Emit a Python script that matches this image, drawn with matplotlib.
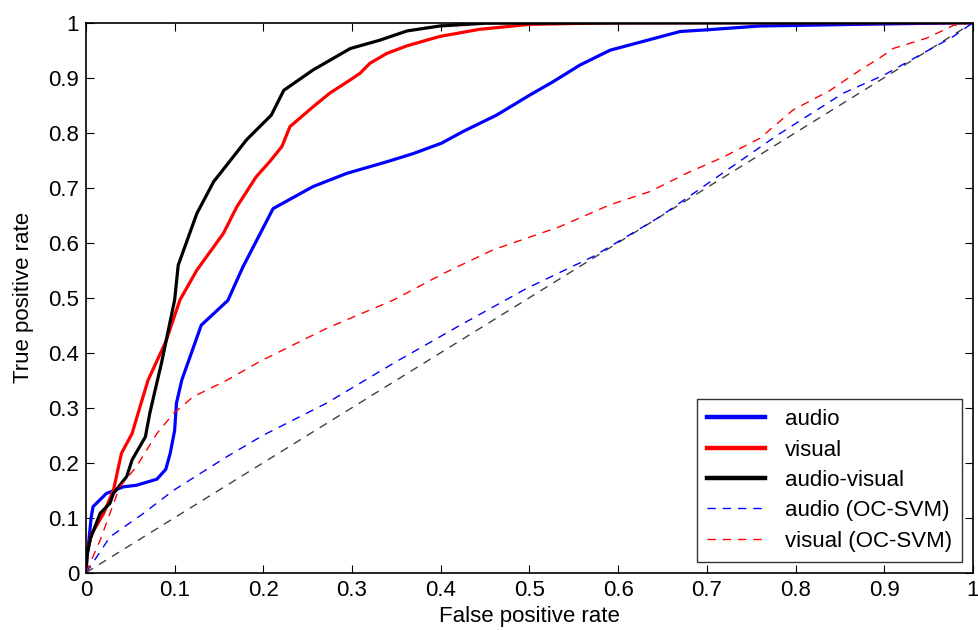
import matplotlib
matplotlib.use('Agg')
import matplotlib.pyplot as plt

plt.rcParams['font.family'] = ['Liberation Sans', 'DejaVu Sans']

#%% data

audio_fpr = [0, 0.001, 0.006, 0.008, 0.023, 0.042, 0.057, 0.080, 0.090, 0.095, 0.100,
             0.102, 0.108, 0.130, 0.160, 0.177, 0.211, 0.256, 0.294, 0.339, 0.369,
             0.401, 0.425, 0.463, 0.500, 0.527, 0.557, 0.591, 0.670, 0.700, 0.760,
             0.800, 0.870, 1.0]
audio_tpr = [0, 0.023, 0.102, 0.120, 0.144, 0.156, 0.159, 0.170, 0.188, 0.217, 0.259,
             0.308, 0.350, 0.450, 0.495, 0.556, 0.662, 0.702, 0.726, 0.747, 0.762,
             0.781, 0.802, 0.832, 0.868, 0.893, 0.923, 0.950, 0.984, 0.987, 0.994,
             0.995, 0.997, 1.0]

visual_fpr = [0, 0.001, 0.006, 0.020, 0.031, 0.040, 0.052, 0.061, 0.070, 0.090, 0.106,
              0.125, 0.155, 0.170, 0.192, 0.207, 0.221, 0.230, 0.256, 0.275, 0.298,
              0.309, 0.320, 0.339, 0.362, 0.399, 0.444, 0.482, 0.500, 0.600, 1.0]
visual_tpr = [0, 0.035, 0.069, 0.108, 0.150, 0.217, 0.253, 0.302, 0.350, 0.420, 0.496,
              0.550, 0.617, 0.665, 0.720, 0.747, 0.775, 0.811, 0.847, 0.872, 0.896,
              0.908, 0.926, 0.944, 0.958, 0.975, 0.988, 0.994, 0.997, 1.0, 1.0]

av_fpr = [0, 0.001, 0.005, 0.016, 0.027, 0.031, 0.046, 0.052, 0.067, 0.072, 0.078,
          0.085, 0.100, 0.104, 0.125, 0.144, 0.166, 0.181, 0.209, 0.223, 0.256,
          0.298, 0.331, 0.362, 0.399, 0.450, 1.0]
av_tpr = [0, 0.030, 0.062, 0.108, 0.126, 0.144, 0.175, 0.205, 0.247, 0.290, 0.332,
          0.380, 0.496, 0.559, 0.653, 0.711, 0.756, 0.787, 0.832, 0.877, 0.914,
          0.953, 0.968, 0.985, 0.994, 0.999, 1.0]

audio_svm_fpr = [0, 0.005, 0.027, 0.065, 0.099, 0.159, 0.200, 0.271, 0.347, 0.422,
                 0.497, 0.572, 0.647, 0.704, 0.780, 0.854, 0.900, 0.950, 0.978, 1.0]
audio_svm_tpr = [0, 0.011, 0.065, 0.108, 0.150, 0.211, 0.250, 0.308, 0.381, 0.450,
                 0.517, 0.575, 0.647, 0.711, 0.796, 0.872, 0.905, 0.950, 0.975, 1.0]

visual_svm_fpr = [0, 0.016, 0.038, 0.057, 0.080, 0.099, 0.121, 0.159, 0.196, 0.271,
                  0.347, 0.403, 0.459, 0.534, 0.591, 0.636, 0.677, 0.719, 0.760,
                  0.797, 0.839, 0.873, 0.895, 0.910, 0.948, 0.978, 1.0]
visual_svm_tpr = [0, 0.059, 0.156, 0.193, 0.253, 0.290, 0.320, 0.350, 0.384, 0.444,
                  0.496, 0.544, 0.587, 0.629, 0.669, 0.693, 0.726, 0.756, 0.790,
                  0.841, 0.877, 0.914, 0.936, 0.953, 0.972, 0.995, 1.0]

chance = [0, 1]

#%% plot

fig = plt.figure(figsize=(9.79, 6.30), dpi=100)
ax = fig.add_axes([0.0878, 0.091, 0.906, 0.873])

ax.plot(chance, chance, color='#404040', linestyle=(0, (6, 5)), linewidth=1.0)
ax.plot(audio_fpr, audio_tpr, color='#0000ff', linewidth=2.3, label='audio')
ax.plot(visual_fpr, visual_tpr, color='#ff0000', linewidth=2.3, label='visual')
ax.plot(av_fpr, av_tpr, color='black', linewidth=2.3, label='audio-visual')
ax.plot(audio_svm_fpr, audio_svm_tpr, color='#0000ff', linestyle=(0, (6, 5)),
        linewidth=1.0, label='audio (OC-SVM)')
ax.plot(visual_svm_fpr, visual_svm_tpr, color='#ff0000', linestyle=(0, (6, 5)),
        linewidth=1.0, label='visual (OC-SVM)')

ax.set_xlim(0, 1)
ax.set_ylim(0, 1)
ax.set_xticks([i / 10 for i in range(11)])
ax.set_yticks([i / 10 for i in range(11)])
ax.set_xticklabels(['0'] + ['%.1f' % (i / 10) for i in range(1, 10)] + ['1'])
ax.set_yticklabels(['0'] + ['%.1f' % (i / 10) for i in range(1, 10)] + ['1'])
ax.tick_params(direction='in', length=6, labelsize=16, top=True, right=True, pad=5)
for s in ax.spines.values():
    s.set_linewidth(1.2)

ax.set_xlabel('False positive rate', fontsize=16, labelpad=4)
ax.set_ylabel('True positive rate', fontsize=16, labelpad=10)

leg = ax.legend(loc='lower right', fontsize=16, frameon=True, fancybox=False,
                edgecolor='black', handlelength=2.6, borderaxespad=0.5,
                borderpad=0.45, labelspacing=0.42, handletextpad=0.9)
leg.get_frame().set_linewidth(1.0)
for h in leg.get_lines()[:3]:
    h.set_linewidth(3.2)

plt.savefig('out.png', dpi=100)
